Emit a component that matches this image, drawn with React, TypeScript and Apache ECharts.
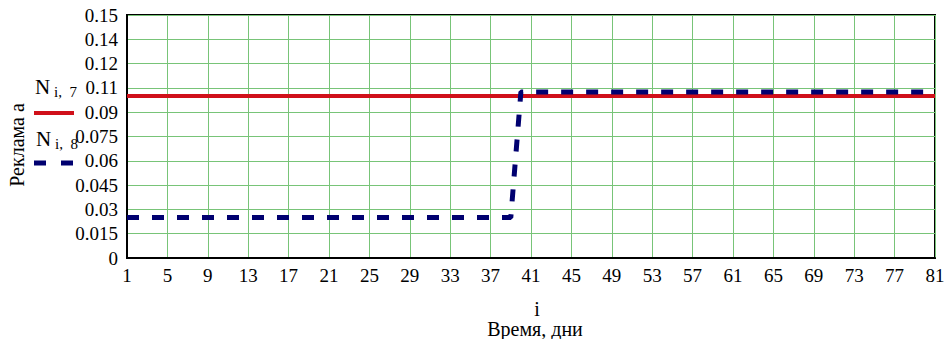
import React, { useEffect, useRef } from "react";
import * as echarts from "echarts";

const categories: string[] = [
  "1","2","3","4","5","6","7","8","9","10","11","12","13","14","15","16","17","18","19","20",
  "21","22","23","24","25","26","27","28","29","30","31","32","33","34","35","36","37","38","39","40",
  "41","42","43","44","45","46","47","48","49","50","51","52","53","54","55","56","57","58","59","60",
  "61","62","63","64","65","66","67","68","69","70","71","72","73","74","75","76","77","78","79","80","81",
];

const seriesN7: number[] = [
  0.1,0.1,0.1,0.1,0.1,0.1,0.1,0.1,0.1,0.1,0.1,0.1,0.1,0.1,0.1,0.1,0.1,0.1,0.1,0.1,
  0.1,0.1,0.1,0.1,0.1,0.1,0.1,0.1,0.1,0.1,0.1,0.1,0.1,0.1,0.1,0.1,0.1,0.1,0.1,0.1,
  0.1,0.1,0.1,0.1,0.1,0.1,0.1,0.1,0.1,0.1,0.1,0.1,0.1,0.1,0.1,0.1,0.1,0.1,0.1,0.1,
  0.1,0.1,0.1,0.1,0.1,0.1,0.1,0.1,0.1,0.1,0.1,0.1,0.1,0.1,0.1,0.1,0.1,0.1,0.1,0.1,0.1,
];

const seriesN8: number[] = [
  0.025,0.025,0.025,0.025,0.025,0.025,0.025,0.025,0.025,0.025,
  0.025,0.025,0.025,0.025,0.025,0.025,0.025,0.025,0.025,0.025,
  0.025,0.025,0.025,0.025,0.025,0.025,0.025,0.025,0.025,0.025,
  0.025,0.025,0.025,0.025,0.025,0.025,0.025,0.025,0.025,
  0.1025,0.1025,0.1025,0.1025,0.1025,0.1025,0.1025,0.1025,0.1025,0.1025,
  0.1025,0.1025,0.1025,0.1025,0.1025,0.1025,0.1025,0.1025,0.1025,0.1025,
  0.1025,0.1025,0.1025,0.1025,0.1025,0.1025,0.1025,0.1025,0.1025,0.1025,
  0.1025,0.1025,0.1025,0.1025,0.1025,0.1025,0.1025,0.1025,0.1025,0.1025,
  0.1025,0.1025,
];

const yTickLabels: string[] = ["0","0.015","0.03","0.045","0.06","0.075","0.09","0.11","0.12","0.14","0.15"];

const FONT = "Liberation Serif";

export default function App() {
  const ref = useRef<HTMLDivElement>(null);
  useEffect(() => {
    if (!ref.current) return;
    const chart = echarts.init(ref.current, null, { renderer: "svg" });
    const txt = (text: string, x: number, y: number, size: number, extra: any = {}) => ({
      type: "text",
      x,
      y,
      ...extra,
      style: {
        text,
        fontSize: size,
        fontFamily: FONT,
        fill: "#000",
        align: extra.align ?? "center",
        verticalAlign: "middle",
      },
    });
    chart.setOption({
      animation: false,
      backgroundColor: "#fff",
      grid: {
        left: 127,
        top: 15,
        right: 13,
        bottom: 81,
        show: true,
        borderColor: "#000",
        borderWidth: 2,
        backgroundColor: "#fff",
      },
      xAxis: {
        type: "category",
        data: categories,
        boundaryGap: false,
        axisLine: { show: true, lineStyle: { color: "#000", width: 2 } },
        axisTick: { show: false },
        axisLabel: {
          interval: 3,
          margin: 8,
          color: "#000",
          fontSize: 19,
          fontFamily: FONT,
        },
        splitLine: { show: true, interval: 3, lineStyle: { color: "#78c478", width: 1 } },
      },
      yAxis: {
        type: "value",
        min: 0,
        max: 0.15,
        interval: 0.015,
        axisLine: { show: true, lineStyle: { color: "#000", width: 2 } },
        axisTick: { show: false },
        axisLabel: {
          margin: 9,
          color: "#000",
          fontSize: 19,
          fontFamily: FONT,
          formatter: (v: number) => yTickLabels[Math.round(v / 0.015)] ?? String(v),
        },
        splitLine: { show: true, lineStyle: { color: "#78c478", width: 1 } },
      },
      series: [
        {
          name: "N7",
          type: "line",
          data: seriesN7,
          showSymbol: false,
          symbol: "none",
          lineStyle: { color: "#d0101a", width: 4 },
          z: 3,
        },
        {
          name: "N8",
          type: "line",
          data: seriesN8,
          showSymbol: false,
          symbol: "none",
          lineStyle: { color: "#000070", width: 5, type: [12, 13], cap: "butt" },
          z: 4,
        },
      ],
      graphic: [
        txt("Реклама а", 17, 145, 20, { rotation: Math.PI / 2 }),
        txt("N", 35, 87, 21, { align: "left" }),
        txt("i,  7", 54, 92, 15, { align: "left" }),
        {
          type: "line",
          shape: { x1: 34, y1: 113, x2: 74, y2: 113 },
          style: { stroke: "#d0101a", lineWidth: 4 },
        },
        txt("N", 36, 139, 21, { align: "left" }),
        txt("i,  8", 55, 144, 15, { align: "left" }),
        {
          type: "line",
          shape: { x1: 34, y1: 163, x2: 73, y2: 163 },
          style: { stroke: "#000070", lineWidth: 5, lineDash: [12, 15] },
        },
        txt("i", 537, 309, 20),
        txt("Время, дни", 535, 329, 20),
      ],
    });
    return () => chart.dispose();
  }, []);
  return (
    <div
      ref={ref}
      style={{ position: "fixed", left: 0, top: 0, width: 948, height: 339, background: "#fff" }}
    />
  );
}
